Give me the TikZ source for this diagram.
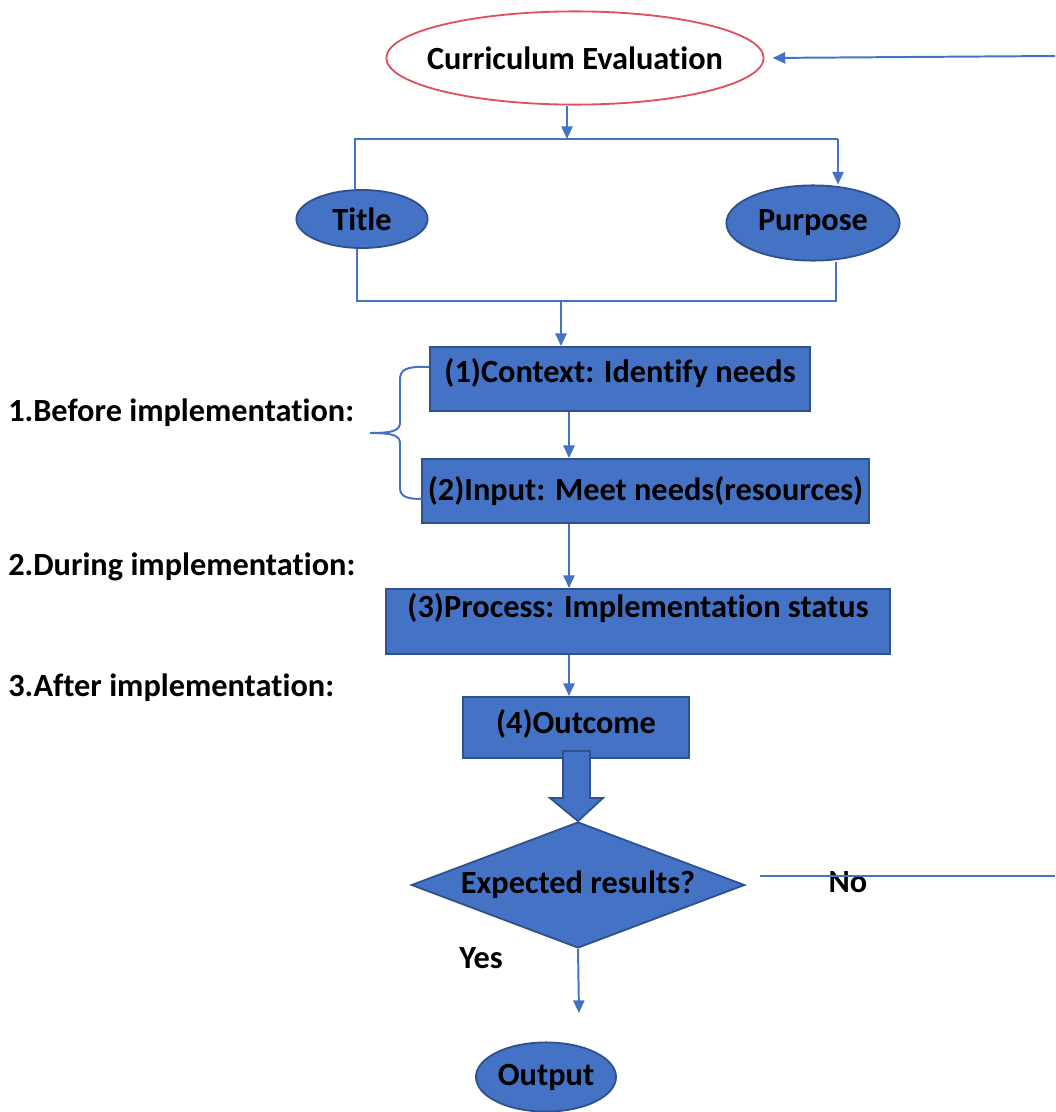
\documentclass[tikz,border=0pt]{standalone}
\usepackage{fontspec}
\setmainfont{Carlito}[Ligatures=NoCommon]
\usetikzlibrary{shapes.geometric,arrows.meta}
\definecolor{boxblue}{HTML}{4472C4}
\definecolor{edgeblue}{HTML}{2F528F}
\definecolor{ovalred}{HTML}{E0505F}

\begin{document}
\begin{tikzpicture}[x=0.025cm,y=-0.025cm,
		font=\bfseries\fontsize{23}{27}\selectfont,
		conn/.style={boxblue,line width=1.4pt},
		arr/.style={conn,-{Triangle[width=8pt,length=9pt]}},
		bluebox/.style={draw=edgeblue,line width=1.3pt,fill=boxblue,inner sep=0pt},
		blueoval/.style={bluebox,ellipse,inner xsep=-0.3cm}]
		\useasboundingbox (0,0) rectangle (1055,1112);
		%		\draw[step=50,black!20,thin] (0,0) grid (1055,1112);
		
		\node[ellipse,draw=ovalred,line width=1.3pt,fill=white,inner sep=0pt,inner xsep=-1cm,minimum width=9.43cm,minimum height=2.33cm] (eval) at (575,58) {Curriculum Evaluation};
		\node[blueoval,minimum width=3.28cm,minimum height=1.45cm] (title) at (362,219) {Title};
		\node[blueoval,minimum width=4.33cm,minimum height=1.88cm] (purpose) at (813,223) {Purpose};
		\node[bluebox,minimum width=9.5cm,minimum height=1.6cm,text depth=0.45cm] (context) at (620,379) {(1)Context: Identify needs};
		\node[bluebox,minimum width=11.18cm,minimum height=1.6cm] (input) at (645.5,491) {(2)Input: Meet needs(resources)};
		\node[bluebox,minimum width=12.6cm,minimum height=1.63cm,text depth=0.8cm] (process) at (638,621.5) {(3)Process: Implementation status};
		\node[bluebox,minimum width=5.65cm,minimum height=1.53cm,text depth=0.3cm] (outcome) at (576,727.5) {(4)Outcome};
		\node[bluebox,diamond,aspect=2.64,minimum width=8.33cm,minimum height=3.15cm] (decision) at (578,885) {Expected results?};
		\node[blueoval,minimum width=3.5cm,minimum height=1.73cm] (output) at (546,1077) {Output};
		
		\node[right,inner sep=0pt] (before) at (8,413) {1.Before implementation:};
		\node[right,inner sep=0pt] (during) at (8,567) {2.During implementation:};
		\node[right,inner sep=0pt] (after) at (8,688) {3.After implementation:};
		\node (yes) at (481,958) {Yes};
		\node (no) at (848,882) {No};
		
		\coordinate (backin) at (1055,56);
		\coordinate (split) at (567,139);
		\coordinate (tl) at (355,139);
		\coordinate (tr) at (838,139);
		\coordinate (bl) at (357,301);
		\coordinate (br) at (836,301);
		\coordinate (join) at (561,301);
		\coordinate (spine) at (569,0);
		\coordinate (noend) at (1055,876);
		\coordinate (nostart) at (760,876);
		\coordinate (yesend) at (579,1013);
		
		\draw[arr,shorten >=0.2cm] (backin) -- (eval.east);
		\draw[arr] (eval.south-|split) -- (split);
		\draw[conn] (title.north-|tl) -- (tl) -- (tr);
		\draw[arr] (tr) -- (tr|-purpose.north);
		\draw[conn] (title.south-|bl) -- (bl) -- (br) -- (br|-purpose.south);
		\draw[arr] (join) -- (join|-context.north);
		\draw[arr] (context.south-|spine) -- (input.north-|spine);
		\draw[arr] (input.south-|spine) -- (process.north-|spine);
		\draw[arr] (process.south-|spine) -- (outcome.north-|spine);
		\draw[arr] (decision.south) -- (yesend);
		\draw[conn] (nostart) -- (noend);
		
		% brace
		\coordinate (bracetop) at (429,367);
		\coordinate (bracetip) at (370,433);
		\coordinate (bracebot) at (422,499);
		\draw[conn] (bracetop) .. controls (405,366) and (400,370) .. (400,380) -- (400,422) .. controls (400,430) and (395,433) .. (bracetip);
		\draw[conn] (bracetip) .. controls (395,433) and (400,436) .. (400,444) -- (400,488) .. controls (400,497) and (408,499) .. (bracebot);
		
		% block arrow
		\draw[bluebox,line join=miter] (563,751) -- (590,751) -- (590,798) -- (603,798) -- (decision.north) -- (550,798) -- (563,798) -- cycle;
	\end{tikzpicture}
\end{document}
